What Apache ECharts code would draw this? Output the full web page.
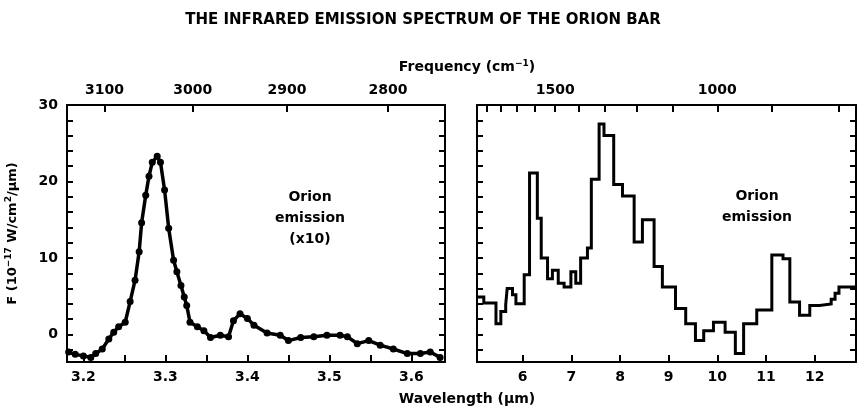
<!DOCTYPE html>
<html>
<head>
<meta charset="utf-8">
<script src="https://cdn.jsdelivr.net/npm/echarts@6/dist/echarts.min.js"></script>
<style>
  html, body { margin: 0; padding: 0; background: #fff; }
  #chart { width: 858px; height: 407px; }
</style>
</head>
<body>
<div id="chart"></div>
<script>
// left panel: 3.3 um band (x10)
var leftWave = [3.182, 3.190, 3.200, 3.209, 3.215, 3.223, 3.231, 3.237, 3.243, 3.251,
  3.257, 3.263, 3.268, 3.271, 3.276, 3.280, 3.284, 3.290, 3.294, 3.299,
  3.304, 3.310, 3.314, 3.319, 3.323, 3.326, 3.330, 3.339, 3.347, 3.355,
  3.367, 3.377, 3.383, 3.391, 3.400, 3.408, 3.424, 3.440, 3.450, 3.465,
  3.481, 3.497, 3.513, 3.522, 3.534, 3.548, 3.562, 3.578, 3.595, 3.611,
  3.623, 3.635];
var leftFlux = [-2.3, -2.6, -2.8, -3.0, -2.5, -1.9, -0.6, 0.3, 1.0, 1.6,
  4.3, 7.1, 10.8, 14.6, 18.2, 20.7, 22.5, 23.3, 22.5, 18.9,
  13.9, 9.7, 8.2, 6.4, 4.9, 3.8, 1.6, 1.0, 0.5, -0.4,
  -0.1, -0.3, 1.8, 2.7, 2.1, 1.2, 0.2, -0.1, -0.8, -0.4,
  -0.3, -0.1, -0.1, -0.3, -1.2, -0.8, -1.4, -1.9, -2.5, -2.5,
  -2.3, -3.0];

// right panel: binned spectrum, left edge of each bin and its flux
var rightEdges = [5.06, 5.20, 5.45, 5.55, 5.65, 5.68, 5.79, 5.86, 6.03, 6.14,
  6.30, 6.38, 6.51, 6.61, 6.73, 6.85, 6.99, 7.09, 7.19, 7.33,
  7.41, 7.57, 7.67, 7.87, 8.05, 8.29, 8.46, 8.70, 8.87, 9.14,
  9.35, 9.55, 9.72, 9.92, 10.16, 10.37, 10.54, 10.81, 11.12, 11.35,
  11.49, 11.69, 11.90, 12.10, 12.34, 12.42, 12.50, 12.85];
var rightFlux = [4.9, 4.1, 1.4, 3.0, 3.9, 6.0, 5.2, 4.0, 7.8, 21.1,
  15.2, 10.0, 7.3, 8.4, 6.7, 6.2, 8.2, 6.7, 10.0, 11.3,
  20.3, 27.5, 26.0, 19.6, 18.1, 12.1, 15.0, 8.9, 6.2, 3.4,
  1.4, -0.8, 0.5, 1.6, 0.3, -2.5, 1.4, 3.2, 10.4, 9.9,
  4.25, 2.5, 3.8, 4.0, 4.6, 5.4, 6.2];

var yTicks = [-2, 0, 2, 4, 6, 8, 10, 12, 14, 16, 18, 20, 22, 24, 26, 28];
var yLabels = [0, 10, 20, 30];
var leftWaveTicks = [3.2, 3.25, 3.3, 3.35, 3.4, 3.45, 3.5, 3.55, 3.6];
var leftWaveLabels = [3.2, 3.3, 3.4, 3.5, 3.6];
var rightWaveTicks = [6, 7, 8, 9, 10, 11, 12];
var leftFreq = [3100, 3000, 2900, 2800];
var rightFreqTicks = [1900, 1800, 1700, 1600, 1500, 1400, 1300, 1200, 1100, 1000, 900, 800];
var rightFreqLabels = [1500, 1000];

var font = 'DejaVu Sans';

var chart = echarts.init(document.getElementById('chart'));

function toWave(list) {
  return list.map(function (f) { return 10000 / f; });
}

var leftData = leftWave.map(function (w, i) { return [w, leftFlux[i]]; });
var rightData = [];
for (var i = 0; i < rightFlux.length; i++) {
  rightData.push([rightEdges[i], rightFlux[i]]);
  rightData.push([rightEdges[i + 1], rightFlux[i]]);
}

var lineColor = '#000';
var labelStyle = {
  color: '#000',
  fontFamily: font,
  fontWeight: 'bold',
  fontSize: 14
};
var supRich = { sup: { fontFamily: font, fontWeight: 'bold', fontSize: 9, verticalAlign: 'top', padding: [0, 0, 8, 0] } };

function xAx(grid, pos, min, max, ticks, labels, fmt) {
  return {
    type: 'value',
    gridIndex: grid,
    position: pos,
    min: min,
    max: max,
    axisLine: { show: true, onZero: false, lineStyle: { color: lineColor, width: 2 } },
    axisTick: { show: true, inside: true, length: 7, customValues: ticks, lineStyle: { color: lineColor, width: 2 } },
    axisLabel: Object.assign({ show: labels.length > 0, customValues: labels, margin: 8, formatter: fmt }, labelStyle),
    splitLine: { show: false }
  };
}

function yAx(grid, pos, showLabels) {
  return {
    type: 'value',
    gridIndex: grid,
    position: pos,
    min: -3.6,
    max: 30,
    axisLine: { show: true, onZero: false, lineStyle: { color: lineColor, width: 2 } },
    axisTick: { show: true, inside: true, length: 6, customValues: yTicks, lineStyle: { color: lineColor, width: 2 } },
    axisLabel: Object.assign({ show: showLabels, customValues: yLabels, margin: 9 }, labelStyle),
    splitLine: { show: false }
  };
}

var waveFmt = function (v) { return (Math.round(v * 10) / 10).toFixed(1); };
var intFmt = function (v) { return String(Math.round(v)); };
var freqFmt = function (v) { return String(Math.round(10000 / v / 100) * 100); };

var yLeft = yAx(0, 'left', true);
yLeft.name = 'F (10{sup|\u221217} W/cm{sup|2}/\u03bcm)';
yLeft.nameLocation = 'middle';
yLeft.nameGap = 46;
yLeft.nameRotate = 90;
yLeft.nameTextStyle = {
  color: '#000', fontFamily: font, fontWeight: 'bold', fontSize: 13,
  rich: supRich
};

option = {
  backgroundColor: '#fff',
  animation: false,
  title: [{
    text: 'THE INFRARED EMISSION SPECTRUM OF THE ORION BAR',
    left: 418,
    top: 8,
    textAlign: 'center',
    textStyle: { color: '#000', fontFamily: font, fontWeight: 'bold', fontSize: 15 }
  }, {
    text: 'Frequency (cm{sup|\u22121})',
    left: 462,
    top: 54,
    textAlign: 'center',
    textStyle: { color: '#000', fontFamily: font, fontWeight: 'bold', fontSize: 14, rich: supRich }
  }, {
    text: 'Wavelength (\u03bcm)',
    left: 462,
    top: 387,
    textAlign: 'center',
    textStyle: { color: '#000', fontFamily: font, fontWeight: 'bold', fontSize: 14 }
  }, {
    text: 'Orion\nemission\n(x10)',
    left: 305,
    top: 182,
    textAlign: 'center',
    textStyle: { color: '#000', fontFamily: font, fontWeight: 'bold', fontSize: 14, lineHeight: 21 }
  }, {
    text: 'Orion\nemission',
    left: 752,
    top: 181,
    textAlign: 'center',
    textStyle: { color: '#000', fontFamily: font, fontWeight: 'bold', fontSize: 14, lineHeight: 21 }
  }],
  grid: [
    { left: 67, top: 105, width: 378, height: 257 },
    { left: 477, top: 105, width: 379, height: 257 }
  ],
  xAxis: [
    xAx(0, 'bottom', 3.18, 3.641, leftWaveTicks, leftWaveLabels, waveFmt),
    xAx(0, 'top', 3.18, 3.641, toWave(leftFreq), toWave(leftFreq), freqFmt),
    xAx(1, 'bottom', 5.06, 12.85, rightWaveTicks, rightWaveTicks, intFmt),
    xAx(1, 'top', 5.06, 12.85, toWave(rightFreqTicks), toWave(rightFreqLabels), freqFmt)
  ],
  yAxis: [
    yLeft,
    yAx(0, 'right', false),
    yAx(1, 'left', false),
    yAx(1, 'right', false)
  ],
  series: [{
    type: 'line',
    xAxisIndex: 0,
    yAxisIndex: 0,
    data: leftData,
    symbol: 'circle',
    symbolSize: 7,
    itemStyle: { color: '#000' },
    lineStyle: { color: '#000', width: 3.5 },
    smooth: false
  }, {
    type: 'line',
    xAxisIndex: 2,
    yAxisIndex: 2,
    data: rightData,
    showSymbol: false,
    lineStyle: { color: '#000', width: 3, join: 'miter' }
  }]
};

chart.setOption(option);
</script>
</body>
</html>
